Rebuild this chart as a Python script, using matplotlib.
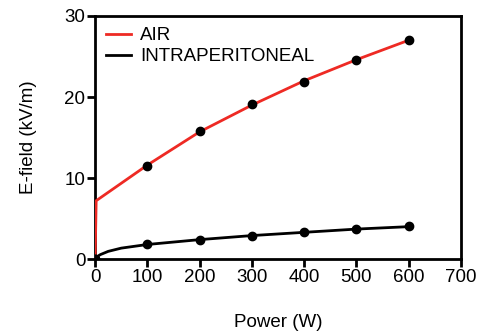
import numpy as np
import matplotlib
matplotlib.use("Agg")
import matplotlib.pyplot as plt

plt.rcParams['font.family'] = ['Liberation Sans', 'DejaVu Sans']

# measured points
power = [0, 100, 200, 300, 400, 500, 600]
air_pts = [0, 11.5, 15.8, 19.1, 21.9, 24.6, 27.0]
ip_pts = [0, 1.8, 2.4, 2.9, 3.4, 3.7, 4.1]

# fitted curves
air_fit_x = [0, 2, 100, 200, 300, 400, 500, 600]
air_fit_y = [0, 7.2, 11.6, 15.7, 19.0, 22.0, 24.6, 27.0]
ip_fit_x = [0, 5, 10, 25, 50, 100, 200, 300, 400, 500, 600]
ip_fit_y = [0, 0.35, 0.55, 0.95, 1.35, 1.8, 2.4, 2.9, 3.3, 3.7, 4.0]

fig = plt.figure(figsize=(4.78, 3.33), dpi=100)
ax = fig.add_axes([0.199, 0.222, 0.765, 0.730])

ax.plot(air_fit_x, air_fit_y, color='#ee2a24', lw=2, label='AIR', zorder=3)
ax.plot(ip_fit_x, ip_fit_y, color='black', lw=2, label='INTRAPERITONEAL', zorder=3)
ax.plot(power, air_pts, 'o', color='black', ms=6, zorder=4)
ax.plot(power, ip_pts, 'o', color='black', ms=6, zorder=4)

ax.set_xlim(0, 700)
ax.set_ylim(0, 30)
ax.set_xticks(range(0, 701, 100))
ax.set_yticks([0, 10, 20, 30])
for s in ax.spines.values():
    s.set_linewidth(2)
ax.tick_params(width=2, length=6, labelsize=13.5, pad=1)
ax.set_xlabel('Power (W)', fontsize=13.5, labelpad=20)
ax.set_ylabel('E-field (kV/m)', fontsize=13.5, labelpad=20)

ax.legend(loc='upper left', frameon=False, fontsize=13.5, handlelength=1.3,
          handletextpad=0.5, borderaxespad=0.2, labelspacing=0.2)

fig.savefig('out.png', dpi=100)
